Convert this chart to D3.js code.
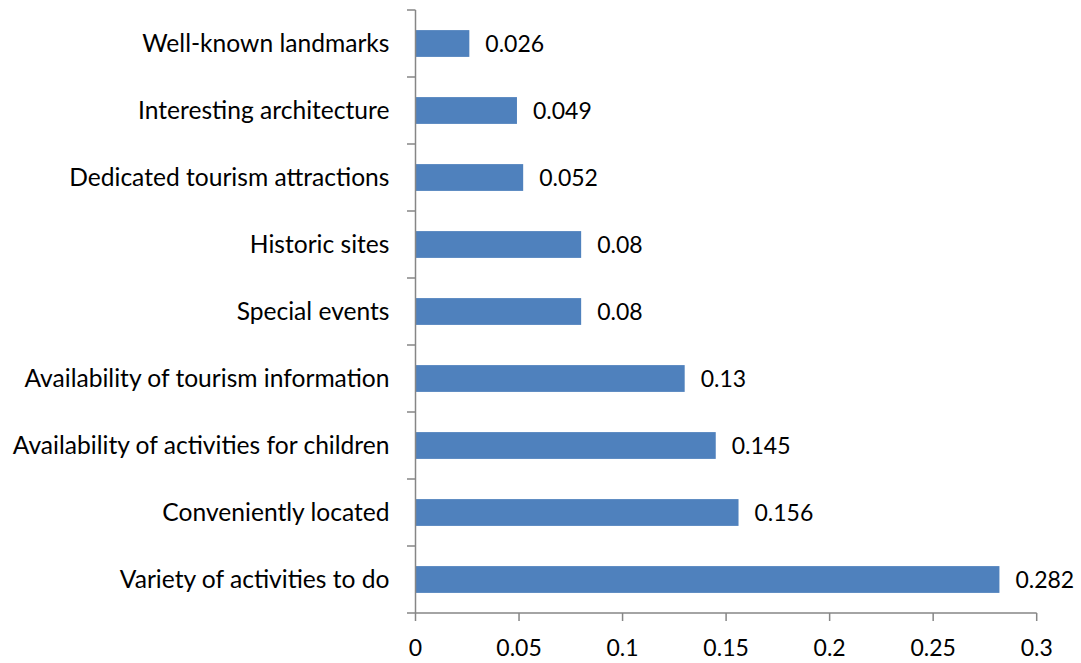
<!DOCTYPE html>
<html><head><meta charset="utf-8">
<script src="https://cdn.jsdelivr.net/npm/d3@7"></script>
<style>body{margin:0;background:#fff}svg{display:block}text{font-family:Lato,"Open Sans",sans-serif;fill:#000}</style>
</head><body><svg id="c" width="1081" height="663"></svg>
<script>
const categories = ["Well-known landmarks","Interesting architecture","Dedicated tourism attractions","Historic sites","Special events","Availability of tourism information","Availability of activities for children","Conveniently located","Variety of activities to do"];
const values = [0.026,0.049,0.052,0.08,0.08,0.13,0.145,0.156,0.282];
const xTicks = [0,0.05,0.1,0.15,0.2,0.25,0.3];
const xTickLabels = ["0","0.05","0.1","0.15","0.2","0.25","0.3"];

const svg = d3.select("#c");
const m = {l:415.5, t:10, r:1036.7, b:613};
const x = d3.scaleLinear().domain([0,0.3]).range([m.l,m.r]);
const y = d3.scaleBand().domain(categories).range([m.t,m.b]).paddingInner(0.6).paddingOuter(0.3);
const yb = d3.scaleBand().domain(categories).range([m.t,m.b]);
const fsCat = 24.6, fsNum = 23;
const axisCol = "#868686";

svg.selectAll("rect.bar").data(values).join("rect")
  .attr("x", x(0)).attr("y",(d,i)=>y(categories[i]))
  .attr("width",d=>x(d)-x(0)).attr("height",y.bandwidth())
  .attr("fill","#4f81bd");

svg.selectAll("text.val").data(values).join("text")
  .attr("x",d=>x(d)+16).attr("y",(d,i)=>y(categories[i])+y.bandwidth()/2)
  .attr("dy","0.35em").attr("font-size",fsNum).text(d=>String(d));

const g = svg.append("g");
g.append("line").attr("x1",m.l).attr("x2",m.l).attr("y1",m.t).attr("y2",m.b).attr("stroke",axisCol).attr("stroke-width",1.5);
const yTickPos = categories.map(c=>yb(c)).concat([m.b]);
g.selectAll("line.yt").data(yTickPos).join("line")
  .attr("x1",m.l-8.5).attr("x2",m.l).attr("y1",d=>d).attr("y2",d=>d).attr("stroke",axisCol).attr("stroke-width",1.5);
g.selectAll("text.cat").data(categories).join("text")
  .attr("x",m.l-26).attr("y",d=>yb(d)+yb.bandwidth()/2).attr("dy","0.35em")
  .attr("text-anchor","end").attr("font-size",fsCat).text(d=>d);

g.append("line").attr("x1",m.l).attr("x2",m.r).attr("y1",m.b).attr("y2",m.b).attr("stroke",axisCol).attr("stroke-width",1.5);
g.selectAll("line.xt").data(xTicks).join("line")
  .attr("x1",d=>x(d)).attr("x2",d=>x(d)).attr("y1",m.b).attr("y2",m.b+8).attr("stroke",axisCol).attr("stroke-width",1.5);
g.selectAll("text.xl").data(xTicks).join("text")
  .attr("x",d=>x(d)).attr("y",648).attr("dy","0.35em").attr("text-anchor","middle")
  .attr("font-size",fsNum).text((d,i)=>xTickLabels[i]);
</script></body></html>
